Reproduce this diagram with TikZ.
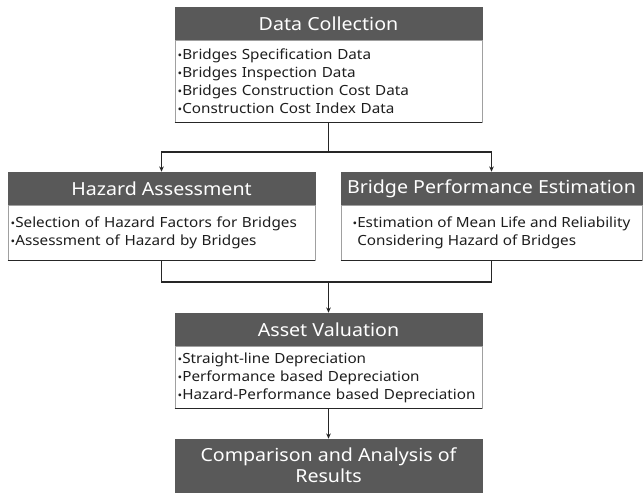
\documentclass[tikz,border=0pt]{standalone}
\usepackage{fontspec}
\setmainfont[FakeStretch=1.09]{Noto Sans}
\usepackage{tikz}
\usetikzlibrary{positioning,calc,arrows.meta}
\usepackage{xcolor}
\definecolor{headgray}{RGB}{89,89,89}
\definecolor{framegray}{RGB}{160,160,160}
\definecolor{textdark}{RGB}{30,30,30}
\newcommand{\bul}{{\fontsize{8.5}{8}\selectfont\textbullet}}
\hyphenpenalty=10000
\exhyphenpenalty=10000

\begin{document}
\begin{tikzpicture}[
  x=0.75pt, y=-0.75pt,
  head/.style={rectangle, fill=headgray, draw=headgray, text=white, inner sep=0pt,
    minimum width=230.25pt, minimum height=24.75pt, font=\fontsize{13.5}{16}\selectfont},
  body/.style={rectangle, draw=framegray, fill=white, text=textdark, align=left,
    inner xsep=2pt, inner ysep=0pt, font=\fontsize{10.5}{13.5}\selectfont},
  listbody/.style={body, text width=226.25pt},
  link/.style={draw=black!85, line width=1.1pt},
  tip/.style={-{Stealth[length=4pt,width=3.5pt]}}
]
\useasboundingbox (0,0) rectangle (644,497);

% data collection
\node[head] (dc) at (328.5,23.5) {Data Collection};
\node[listbody, below=0pt of dc, minimum height=61.5pt] (dcb)
  {\bul Bridges Specification Data\\
   \bul Bridges Inspection Data\\
   \bul Bridges Construction Cost Data\\
   \bul Construction Cost Index Data};

% hazard / performance
\node[head] (ha) at (161.5,188.5) {Hazard Assessment};
\node[listbody, below=0pt of ha, minimum height=41.25pt] (hab)
  {\bul Selection of Hazard Factors for Bridges\\
   \bul Assessment of Hazard by Bridges};

\node[head, minimum width=225.75pt] (bpe) at (491.5,188.5) {Bridge Performance Estimation};
\node[body, below=0pt of bpe, minimum height=41.25pt, minimum width=225.75pt] (bpeb)
  {\bul Estimation of Mean Life and Reliability\\
   \phantom{\bul}Considering Hazard of Bridges};

% valuation and results
\node[head] (av) at (328.5,329.5) {Asset Valuation};
\node[listbody, below=0pt of av, minimum height=46.5pt] (avb)
  {\bul Straight-line Depreciation\\
   \bul Performance based Depreciation\\
   \bul Hazard-Performance based Depreciation};
\node[head, minimum height=39.75pt, align=center] (cmp) at (328.5,465.5)
  {Comparison and Analysis of\\Results};

\foreach \b in {dcb,hab,bpeb,avb}
  \draw[line width=1pt, black!85] (\b.south west) -- (\b.south east);

\coordinate (split) at (328.5,152);
\coordinate (merge) at (328.5,282);

\draw[link] (dcb.south) -- (split);
\draw[link, tip] (split) -| (ha.north);
\draw[link, tip] (split) -| (bpe.north);
\draw[link] (hab.south) |- (merge);
\draw[link] (bpeb.south) |- (merge);
\draw[link, tip] (merge) -- (av.north);
\draw[link, tip] (avb.south) -- (cmp.north);
\end{tikzpicture}
\end{document}
